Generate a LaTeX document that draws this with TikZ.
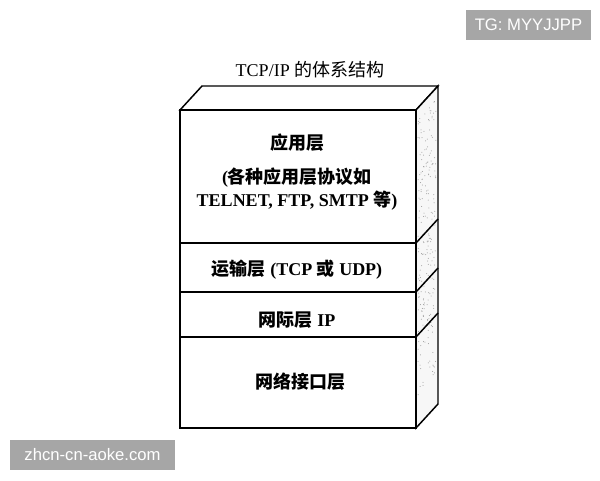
\documentclass[tikz,border=0pt]{standalone}
\usepackage{fontspec}
\setmainfont{Liberation Serif}
\setsansfont{Liberation Sans}
\newfontfamily\cjk{Noto Sans CJK SC}
\tikzset{
	front/.style={draw, line width=1.1pt, fill=white},
	sideface/.style={draw, line width=1.1pt, fill=black!3},
	layertext/.style={font=\bfseries\fontsize{13.5}{17}\selectfont, align=center, inner sep=0pt},
	wmbox/.style={text=white, font=\sffamily\fontsize{12.5}{14}\selectfont, inner sep=0pt}
}
\begin{document}
\begin{tikzpicture}[x=0.75pt,y=0.75pt,yscale=-1,xscale=1]
\useasboundingbox (0,0) rectangle (600,480);

% top and side of the stack
\draw [front] (180,110) -- (202,86) -- (438,86) -- (416,110) -- cycle ;
\draw [sideface] (416,110) -- (438,86) -- (438,404) -- (416,428) -- cycle ;
\pgfmathsetseed{11}
\foreach \i in {1,...,220}{
	\pgfmathsetmacro{\u}{rnd}
	\pgfmathsetmacro{\v}{0.04+0.92*rnd}
	\fill [black!40] ({418+18*\u},{108-22*\u+300*\v}) circle (0.5) ;
}

% front face, one box per layer
\draw [front] (180,110) rectangle (416,243) ;
\draw [front] (180,243) rectangle (416,292) ;
\draw [front] (180,292) rectangle (416,337) ;
\draw [front] (180,337) rectangle (416,428) ;

% edges of the layers on the side
\draw [line width=1.1pt] (416,243) -- (438,219) ;
\draw [line width=1.1pt] (416,292) -- (438,268) ;
\draw [line width=1.1pt] (416,337) -- (438,313) ;

\node [layertext, font=\fontsize{13.5}{17}\selectfont] (title) at (310,70) {TCP/IP {\cjk 的体系结构}};
\node [layertext] (app) at (297,143) {\cjk 应用层};
\node [layertext] (appproto) at (297,189) {({\cjk 各种应用层协议如}\\TELNET, FTP, SMTP {\cjk 等})};
\node [layertext] (transport) at (297,270) {{\cjk 运输层} (TCP {\cjk 或} UDP)};
\node [layertext] (internet) at (297,320) {{\cjk 网际层} IP};
\node [layertext] (netif) at (300,382) {\cjk 网络接口层};

% watermarks
\fill [black!35] (466,10) rectangle (591,40) ;
\node [wmbox] (tg) at (528.5,25) {TG: MYYJJPP};
\fill [black!35] (10,440) rectangle (175,470) ;
\node [wmbox] (site) at (92.5,455) {zhcn-cn-aoke.com};

\end{tikzpicture}
\end{document}
